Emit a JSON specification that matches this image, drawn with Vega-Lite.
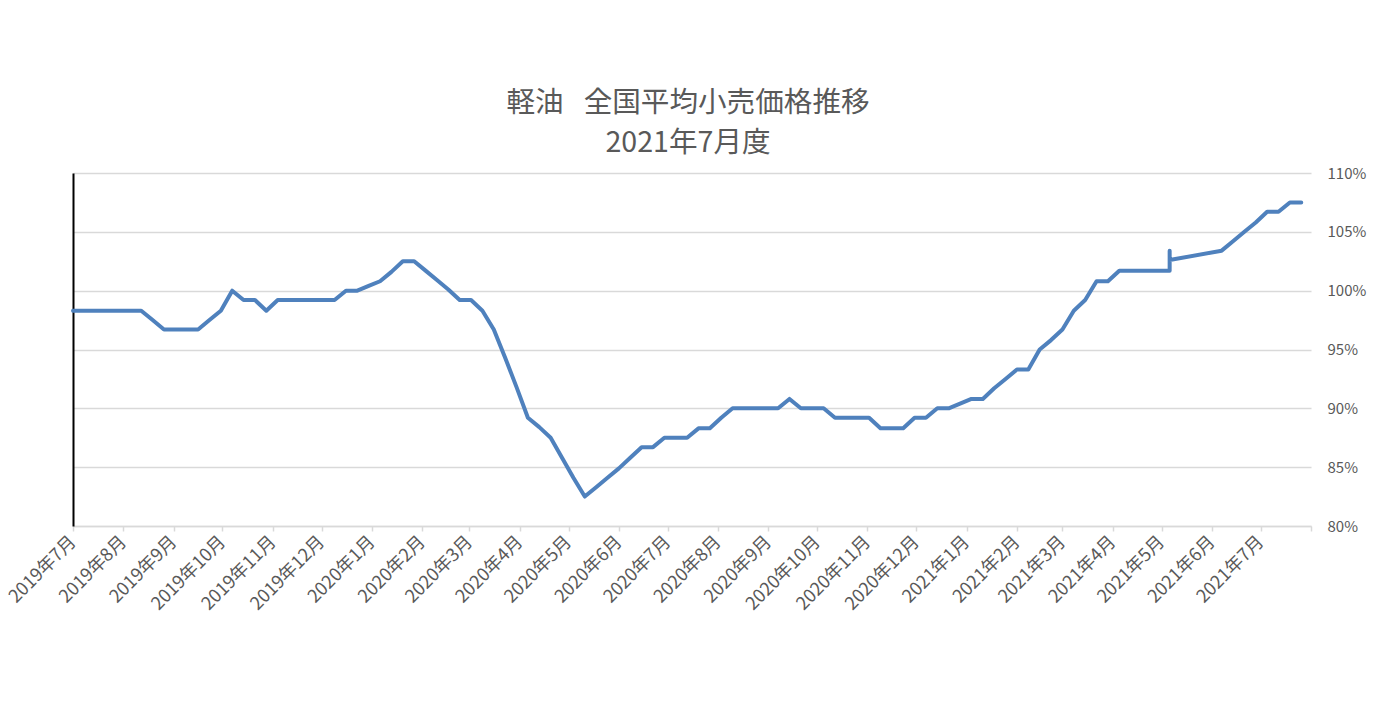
{
  "$schema": "https://vega.github.io/schema/vega-lite/v6.json",
  "width": 1238,
  "height": 353,
  "padding": {"left": 5, "top": 89, "right": 5, "bottom": 10},
  "background": "white",
  "title": {
    "text": ["軽油\u2002\u2009全国平均小売価格推移", "2021年7月度"],
    "fontSize": 28.6,
    "font": "Noto Sans CJK JP",
    "fontWeight": "normal",
    "color": "#595959",
    "lineHeight": 40,
    "anchor": "middle",
    "dx": -4,
    "offset": 8
  },
  "data": {
    "values": [
      {"seq": 0, "date": "2019/07/01", "value": 98.3},
      {"seq": 1, "date": "2019/07/08", "value": 98.3},
      {"seq": 2, "date": "2019/07/15", "value": 98.3},
      {"seq": 3, "date": "2019/07/22", "value": 98.3},
      {"seq": 4, "date": "2019/07/29", "value": 98.3},
      {"seq": 5, "date": "2019/08/05", "value": 98.3},
      {"seq": 6, "date": "2019/08/12", "value": 98.3},
      {"seq": 7, "date": "2019/08/19", "value": 97.5},
      {"seq": 8, "date": "2019/08/26", "value": 96.7},
      {"seq": 9, "date": "2019/09/02", "value": 96.7},
      {"seq": 10, "date": "2019/09/09", "value": 96.7},
      {"seq": 11, "date": "2019/09/16", "value": 96.7},
      {"seq": 12, "date": "2019/09/23", "value": 97.5},
      {"seq": 13, "date": "2019/09/30", "value": 98.3},
      {"seq": 14, "date": "2019/10/07", "value": 100.0},
      {"seq": 15, "date": "2019/10/14", "value": 99.2},
      {"seq": 16, "date": "2019/10/21", "value": 99.2},
      {"seq": 17, "date": "2019/10/28", "value": 98.3},
      {"seq": 18, "date": "2019/11/04", "value": 99.2},
      {"seq": 19, "date": "2019/11/11", "value": 99.2},
      {"seq": 20, "date": "2019/11/18", "value": 99.2},
      {"seq": 21, "date": "2019/11/25", "value": 99.2},
      {"seq": 22, "date": "2019/12/02", "value": 99.2},
      {"seq": 23, "date": "2019/12/09", "value": 99.2},
      {"seq": 24, "date": "2019/12/16", "value": 100.0},
      {"seq": 25, "date": "2019/12/23", "value": 100.0},
      {"seq": 26, "date": "2019/12/30", "value": 100.4},
      {"seq": 27, "date": "2020/01/06", "value": 100.8},
      {"seq": 28, "date": "2020/01/13", "value": 101.6},
      {"seq": 29, "date": "2020/01/20", "value": 102.5},
      {"seq": 30, "date": "2020/01/27", "value": 102.5},
      {"seq": 31, "date": "2020/02/03", "value": 101.7},
      {"seq": 32, "date": "2020/02/10", "value": 100.9},
      {"seq": 33, "date": "2020/02/17", "value": 100.1},
      {"seq": 34, "date": "2020/02/24", "value": 99.2},
      {"seq": 35, "date": "2020/03/02", "value": 99.2},
      {"seq": 36, "date": "2020/03/09", "value": 98.3},
      {"seq": 37, "date": "2020/03/16", "value": 96.7},
      {"seq": 38, "date": "2020/03/23", "value": 94.3},
      {"seq": 39, "date": "2020/03/30", "value": 91.8},
      {"seq": 40, "date": "2020/04/06", "value": 89.2},
      {"seq": 41, "date": "2020/04/13", "value": 88.4},
      {"seq": 42, "date": "2020/04/20", "value": 87.5},
      {"seq": 43, "date": "2020/04/27", "value": 85.8},
      {"seq": 44, "date": "2020/05/04", "value": 84.1},
      {"seq": 45, "date": "2020/05/11", "value": 82.5},
      {"seq": 46, "date": "2020/05/18", "value": 83.3},
      {"seq": 47, "date": "2020/05/25", "value": 84.1},
      {"seq": 48, "date": "2020/06/01", "value": 84.9},
      {"seq": 49, "date": "2020/06/08", "value": 85.8},
      {"seq": 50, "date": "2020/06/15", "value": 86.7},
      {"seq": 51, "date": "2020/06/22", "value": 86.7},
      {"seq": 52, "date": "2020/06/29", "value": 87.5},
      {"seq": 53, "date": "2020/07/06", "value": 87.5},
      {"seq": 54, "date": "2020/07/13", "value": 87.5},
      {"seq": 55, "date": "2020/07/20", "value": 88.3},
      {"seq": 56, "date": "2020/07/27", "value": 88.3},
      {"seq": 57, "date": "2020/08/03", "value": 89.2},
      {"seq": 58, "date": "2020/08/10", "value": 90.0},
      {"seq": 59, "date": "2020/08/17", "value": 90.0},
      {"seq": 60, "date": "2020/08/24", "value": 90.0},
      {"seq": 61, "date": "2020/08/31", "value": 90.0},
      {"seq": 62, "date": "2020/09/07", "value": 90.0},
      {"seq": 63, "date": "2020/09/14", "value": 90.8},
      {"seq": 64, "date": "2020/09/21", "value": 90.0},
      {"seq": 65, "date": "2020/09/28", "value": 90.0},
      {"seq": 66, "date": "2020/10/05", "value": 90.0},
      {"seq": 67, "date": "2020/10/12", "value": 89.2},
      {"seq": 68, "date": "2020/10/19", "value": 89.2},
      {"seq": 69, "date": "2020/10/26", "value": 89.2},
      {"seq": 70, "date": "2020/11/02", "value": 89.2},
      {"seq": 71, "date": "2020/11/09", "value": 88.3},
      {"seq": 72, "date": "2020/11/16", "value": 88.3},
      {"seq": 73, "date": "2020/11/23", "value": 88.3},
      {"seq": 74, "date": "2020/11/30", "value": 89.2},
      {"seq": 75, "date": "2020/12/07", "value": 89.2},
      {"seq": 76, "date": "2020/12/14", "value": 90.0},
      {"seq": 77, "date": "2020/12/21", "value": 90.0},
      {"seq": 78, "date": "2020/12/28", "value": 90.4},
      {"seq": 79, "date": "2021/01/04", "value": 90.8},
      {"seq": 80, "date": "2021/01/11", "value": 90.8},
      {"seq": 81, "date": "2021/01/18", "value": 91.7},
      {"seq": 82, "date": "2021/01/25", "value": 92.5},
      {"seq": 83, "date": "2021/02/01", "value": 93.3},
      {"seq": 84, "date": "2021/02/08", "value": 93.3},
      {"seq": 85, "date": "2021/02/15", "value": 95.0},
      {"seq": 86, "date": "2021/02/22", "value": 95.8},
      {"seq": 87, "date": "2021/03/01", "value": 96.7},
      {"seq": 88, "date": "2021/03/08", "value": 98.3},
      {"seq": 89, "date": "2021/03/15", "value": 99.2},
      {"seq": 90, "date": "2021/03/22", "value": 100.8},
      {"seq": 91, "date": "2021/03/29", "value": 100.8},
      {"seq": 92, "date": "2021/04/05", "value": 101.7},
      {"seq": 93, "date": "2021/04/12", "value": 101.7},
      {"seq": 94, "date": "2021/04/19", "value": 101.7},
      {"seq": 95, "date": "2021/04/26", "value": 101.7},
      {"seq": 96, "date": "2021/05/03", "value": 101.7},
      {"seq": 97, "date": "2021/05/06", "value": 101.7},
      {"seq": 98, "date": "2021/05/06", "value": 103.4},
      {"seq": 99, "date": "2021/05/06", "value": 102.6},
      {"seq": 100, "date": "2021/06/07", "value": 103.4},
      {"seq": 101, "date": "2021/06/14", "value": 104.2},
      {"seq": 102, "date": "2021/06/21", "value": 105.0},
      {"seq": 103, "date": "2021/06/28", "value": 105.8},
      {"seq": 104, "date": "2021/07/05", "value": 106.7},
      {"seq": 105, "date": "2021/07/12", "value": 106.7},
      {"seq": 106, "date": "2021/07/19", "value": 107.5},
      {"seq": 107, "date": "2021/07/26", "value": 107.5}
    ]
  },
  "encoding": {
    "x": {
      "field": "date",
      "type": "temporal",
      "scale": {"domain": [{"year": 2019, "month": 7, "date": 1}, {"year": 2021, "month": 8, "date": 1}]},
      "axis": {
        "title": null,
        "grid": false,
        "tickCount": {"interval": "month", "step": 1},
        "domainColor": "#D9D9D9",
        "domainWidth": 1.5,
        "tickColor": "#D9D9D9",
        "tickWidth": 1.5,
        "tickSize": 5,
        "labelAngle": -45,
        "labelAlign": "right",
        "labelBaseline": "middle",
        "labelFontSize": 18,
        "labelColor": "#595959",
        "labelFont": "Noto Sans CJK JP",
        "labelPadding": 8,
        "labelOverlap": false,
        "labelFlush": false,
        "labelBound": false,
        "labelExpr": "(year(datum.value) == 2021 && month(datum.value) == 7) ? '' : timeFormat(datum.value, '%Y年%-m月')"
      }
    },
    "order": {"field": "seq", "type": "quantitative"}
  },
  "layer": [
    {
      "mark": {"type": "line", "color": "#4F81BD", "strokeWidth": 4, "strokeJoin": "round", "strokeCap": "round"},
      "encoding": {
        "y": {
          "field": "value",
          "type": "quantitative",
          "scale": {"domain": [80, 110], "nice": false, "zero": false},
          "axis": {
            "orient": "right",
            "title": null,
            "values": [80, 85, 90, 95, 100, 105, 110],
            "labelExpr": "datum.value + '%'",
            "ticks": false,
            "domain": false,
            "grid": true,
            "gridColor": "#D9D9D9",
            "gridWidth": 1.5,
            "labelColor": "#595959",
            "labelFontSize": 15,
            "labelFont": "Noto Sans CJK JP",
            "labelPadding": 16,
            "labelAlign": "left"
          }
        }
      }
    },
    {
      "mark": {"type": "line", "opacity": 0},
      "encoding": {
        "y": {
          "field": "value",
          "type": "quantitative",
          "scale": {"domain": [80, 110], "nice": false, "zero": false},
          "axis": {
            "orient": "left",
            "title": null,
            "labels": false,
            "ticks": false,
            "grid": false,
            "domain": true,
            "domainColor": "#000000",
            "domainWidth": 2
          }
        }
      }
    }
  ],
  "resolve": {"axis": {"y": "independent"}},
  "config": {"view": {"stroke": null}, "font": "Noto Sans CJK JP"}
}
